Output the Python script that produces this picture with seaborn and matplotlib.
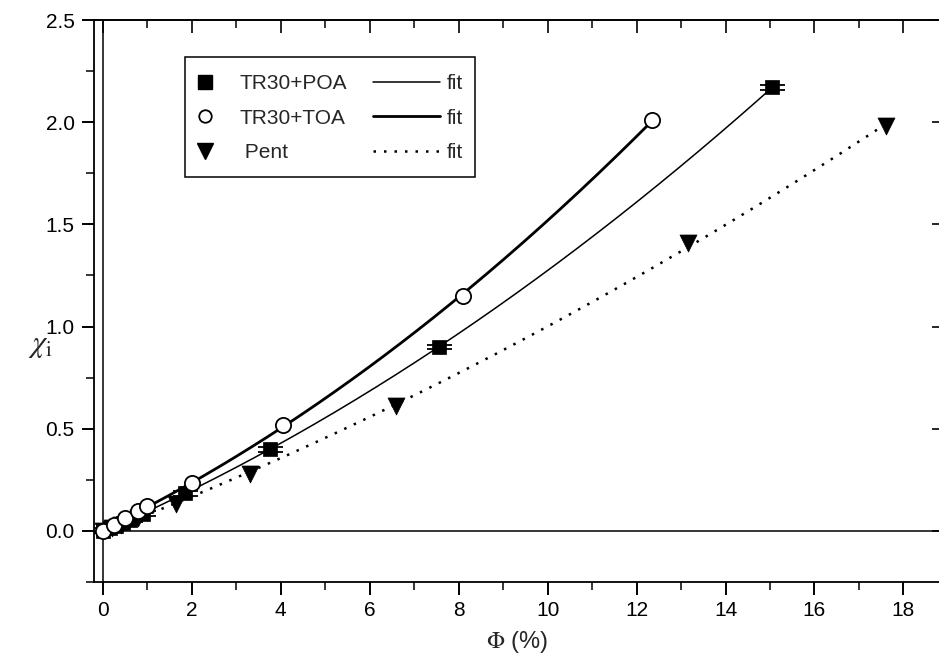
import numpy as np
import pandas as pd
import matplotlib
matplotlib.use("Agg")
import matplotlib.pyplot as plt
import seaborn as sns
from matplotlib.lines import Line2D
from matplotlib.patches import Rectangle
from matplotlib.ticker import MultipleLocator, FormatStrFormatter

# Measured susceptibility chi_i versus volume fraction Phi (%)
poa_phi = [0.0, 0.15, 0.3, 0.45, 0.6, 0.9, 1.85, 3.75, 7.55, 15.05]
poa_chi = [0.0, 0.012, 0.025, 0.04, 0.055, 0.085, 0.185, 0.40, 0.90, 2.17]
poa_err = [0.012, 0.012, 0.012, 0.012, 0.012, 0.012, 0.012, 0.012, 0.012, 0.012]

toa_phi = [0.0, 0.25, 0.5, 0.8, 1.0, 2.0, 4.05, 8.1, 12.35]
toa_chi = [0.0, 0.03, 0.065, 0.095, 0.12, 0.235, 0.52, 1.15, 2.01]

pent_phi = [0.0, 0.2, 0.4, 0.8, 1.65, 3.3, 6.6, 13.15, 17.6]
pent_chi = [0.0, 0.015, 0.03, 0.065, 0.13, 0.28, 0.61, 1.41, 1.98]

series_names = ["TR30+POA", "TR30+TOA", " Pent"]

sns.set_theme(style="ticks")
plt.rcParams["font.family"] = ["Liberation Sans", "DejaVu Sans"]
plt.rcParams["mathtext.fontset"] = "stix"

W, H = 939, 662
fig = plt.figure(figsize=(W / 100, H / 100), dpi=100)
L, R, T, B = 94, 939, 20, 582
ax = fig.add_axes([L / W, 1 - B / H, (R - L) / W, (B - T) / H])

def fit_curve(x, y, deg=2):
    x = np.asarray(x); y = np.asarray(y)
    c = np.polyfit(x, y, deg)
    xs = np.linspace(0, x.max(), 300)
    return pd.DataFrame({"phi": xs, "chi": np.polyval(c, xs)})

# reference lines at the origin
ax.axhline(0, color="black", lw=1.1, zorder=1)
ax.axvline(0, color="black", lw=1.1, zorder=1)

# fitted curves
sns.lineplot(data=fit_curve(poa_phi, poa_chi), x="phi", y="chi", ax=ax,
             color="black", lw=1.1, zorder=2)
sns.lineplot(data=fit_curve(toa_phi, toa_chi), x="phi", y="chi", ax=ax,
             color="black", lw=2.0, zorder=2)
sns.lineplot(data=fit_curve(pent_phi, pent_chi), x="phi", y="chi", ax=ax,
             color="black", lw=1.8, linestyle=(0, (1, 3.2)), zorder=2)

# error bars of the POA series
ax.errorbar(poa_phi, poa_chi, yerr=poa_err, fmt="none", ecolor="black",
            elinewidth=1.0, capsize=9, capthick=1.3, zorder=3)

# data points
sns.scatterplot(x=pent_phi, y=pent_chi, ax=ax, marker="v", s=150,
                color="black", edgecolor="black", linewidth=0.5, zorder=4)
sns.scatterplot(x=poa_phi, y=poa_chi, ax=ax, marker="s", s=110,
                color="black", edgecolor="black", linewidth=0.5, zorder=5)
sns.scatterplot(x=toa_phi, y=toa_chi, ax=ax, marker="o", s=120,
                facecolor="white", edgecolor="black", linewidth=1.3, zorder=6)

ax.set_xlim(-0.2, 18.8)
ax.set_ylim(-0.25, 2.5)
ax.xaxis.set_major_locator(MultipleLocator(2))
ax.xaxis.set_minor_locator(MultipleLocator(1))
ax.yaxis.set_major_locator(MultipleLocator(0.5))
ax.yaxis.set_minor_locator(MultipleLocator(0.25))
ax.yaxis.set_major_formatter(FormatStrFormatter("%.1f"))
ax.tick_params(which="major", direction="out", length=9, width=1.4,
               labelsize=15, colors="black", pad=5)
ax.tick_params(which="minor", direction="out", length=6, width=1.3)
for s in ["left", "bottom", "top"]:
    ax.spines[s].set_linewidth(1.3)
    ax.spines[s].set_color("black")
ax.spines["right"].set_visible(False)

# inward ticks on the top and right edges
secx = ax.secondary_xaxis("top")
secx.xaxis.set_major_locator(MultipleLocator(2))
secx.xaxis.set_minor_locator(MultipleLocator(1))
secx.tick_params(which="major", direction="in", length=9, width=1.4, labeltop=False)
secx.tick_params(which="minor", direction="in", length=6, width=1.3)
secx.spines["top"].set_linewidth(1.3)

secy = ax.secondary_yaxis("right")
secy.yaxis.set_major_locator(MultipleLocator(0.5))
secy.tick_params(which="major", direction="in", length=5, width=1.4, labelright=False)
secy.tick_params(which="minor", length=0)
secy.spines["right"].set_visible(False)

ax.set_xlabel(r"$\Phi$ (%)", fontsize=17, labelpad=6)
ax.set_ylabel(r"$\chi_\mathrm{i}$", fontsize=22, rotation=0, va="center", ha="center")
ax.yaxis.set_label_coords((40 - L) / (R - L), (B - 345) / (B - T))

# legend: framed box with markers on the left and fit lines on the right
def ax_xy(px, py):
    return (px - L) / (R - L), (B - py) / (B - T)

x0, y1 = ax_xy(185, 57)
x1, y0 = ax_xy(475, 177)
ax.add_patch(Rectangle((x0, y0), x1 - x0, y1 - y0, transform=ax.transAxes,
                       fill=False, edgecolor="black", lw=1.1, zorder=7))

mk_handles = [
    Line2D([], [], ls="none", marker="s", ms=10, color="black"),
    Line2D([], [], ls="none", marker="o", ms=9, mfc="white", mec="black", mew=1.3),
    Line2D([], [], ls="none", marker="v", ms=11, color="black"),
]
leg1 = ax.legend(mk_handles, series_names, loc="upper left",
                 bbox_to_anchor=ax_xy(188, 74), frameon=False, fontsize=15,
                 handlelength=1.6, handletextpad=0.85, labelspacing=0.75,
                 borderpad=0, borderaxespad=0)
ax.add_artist(leg1)
fit_handles = [
    Line2D([], [], color="black", lw=1.1),
    Line2D([], [], color="black", lw=2.0),
    Line2D([], [], color="black", lw=1.8, ls=(0, (1, 3.2))),
]
ax.legend(fit_handles, ["fit", "fit", "fit"], loc="upper left",
          bbox_to_anchor=ax_xy(373, 74), frameon=False, fontsize=15,
          handlelength=3.2, handletextpad=0.35, labelspacing=0.75,
          borderpad=0, borderaxespad=0)

fig.savefig("out.png", dpi=100)
